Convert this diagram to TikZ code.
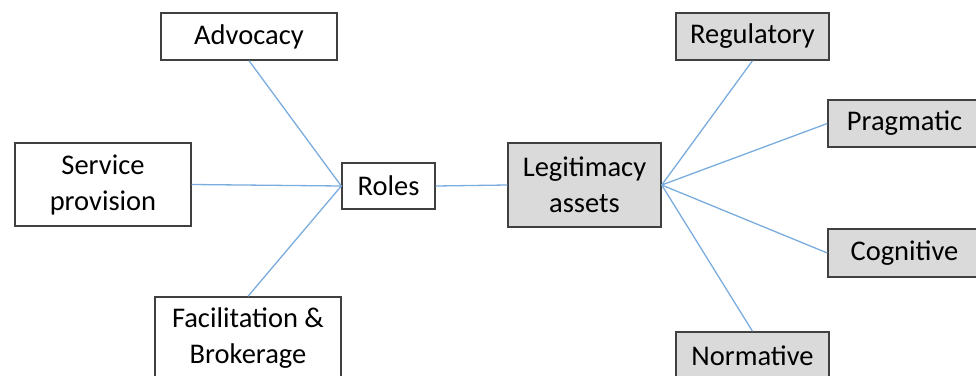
\documentclass[tikz,border=0pt]{standalone}
\usepackage{fontspec}
\setmainfont{Carlito}
\definecolor{linkblue}{RGB}{122,172,222}
\definecolor{boxgray}{RGB}{218,218,218}
\definecolor{boxedge}{RGB}{64,64,64}
\tikzset{
    box/.style={draw=boxedge, line width=1.4pt, fill=white, align=center,
        inner sep=0pt, font=\fontsize{28.5}{36}\selectfont},
    asset/.style={box, fill=boxgray},
    link/.style={draw=linkblue, line width=1.3pt},
}
\begin{document}
\begin{tikzpicture}[x=1pt, y=-1pt]
    % Bildrand
    \useasboundingbox (0,0) rectangle (976,375);
    \clip (0,0) rectangle (976,375);

    % Rollen
    \node[box, minimum width=93pt, minimum height=46pt] (roles) at (388.5,186) {Roles};
    \node[box, minimum width=176pt, minimum height=47pt] (advocacy) at (249,36.5) {Advocacy};
    \node[box, minimum width=176pt, minimum height=83pt] (service) at (103,184.5) {Service\\provision};
    \node[box, minimum width=186pt, minimum height=83pt] (facil) at (248,338.5) {Facilitation \&\\Brokerage};

    % Legitimitaet
    \node[asset, minimum width=153pt, minimum height=84pt] (legit) at (584.5,185) {Legitimacy\\assets};
    \node[asset, minimum width=153pt, minimum height=47pt] (regul) at (752.5,36.5) {Regulatory};
    \node[asset, minimum width=153pt, minimum height=47pt] (pragm) at (904.5,123.5) {Pragmatic};
    \node[asset, minimum width=153pt, minimum height=48pt] (cogn) at (904.5,253) {Cognitive};
    \node[asset, minimum width=153pt, minimum height=47pt] (norm) at (752.5,355.5) {Normative};

    % Verbindungen
    \foreach \n/\a in {advocacy/south, service/east, facil/north} {
        \draw[link] (\n.\a) -- (roles.west);
    }
    \draw[link] (roles.east) -- (legit.west);
    \foreach \n/\a in {regul/south, pragm/west, cogn/west, norm/north} {
        \draw[link] (legit.east) -- (\n.\a);
    }
\end{tikzpicture}
\end{document}
